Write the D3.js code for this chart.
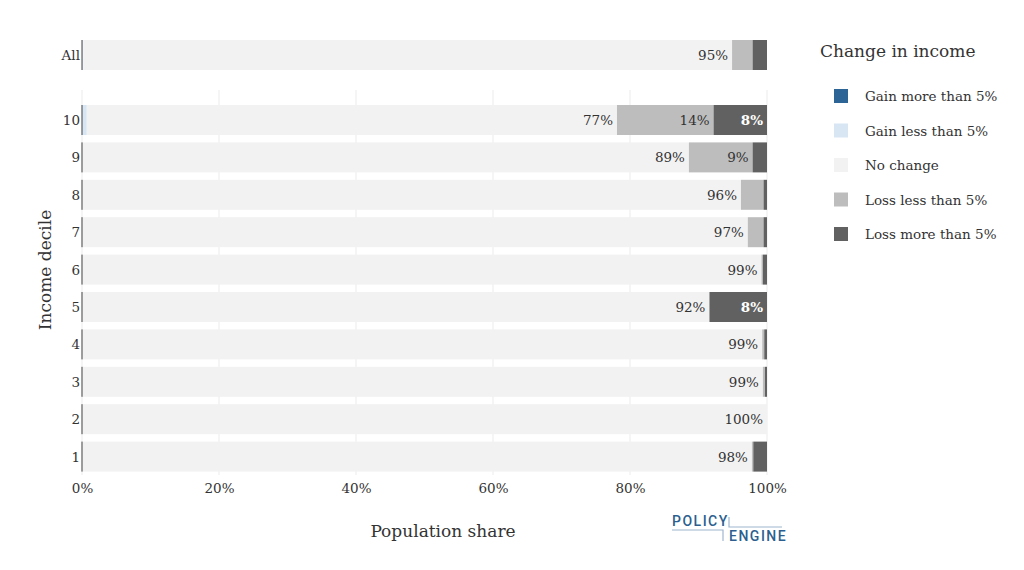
<!DOCTYPE html>
<html><head><meta charset="utf-8">
<script src="https://cdn.jsdelivr.net/npm/d3@7"></script>
<style>body{margin:0;background:#fff;font-family:"DejaVu Serif",serif;}</style>
</head><body><svg id="chart" width="1024" height="570"></svg>
<script>
var rows = ["All","10","9","8","7","6","5","4","3","2","1"];
var keys = ["Gain more than 5%","Gain less than 5%","No change","Loss less than 5%","Loss more than 5%"];
var colors = ["#2c6496","#d8e6f3","#f2f2f2","#bdbdbd","#616161"];
var gainMore = [0,0,0,0,0,0,0,0,0,0,0];
var gainLess = [0.2,0.7,0,0,0,0,0,0,0,0,0];
var noChange = [94.7,77.4,88.6,96.2,97.2,99.2,91.6,99.3,99.4,100,97.8];
var lossLess = [3.0,14.1,9.3,3.3,2.3,0.2,0,0.3,0.3,0,0.2];
var lossMore = [2.1,7.8,2.1,0.5,0.5,0.6,8.4,0.4,0.3,0,2.0];
var series = [gainMore,gainLess,noChange,lossLess,lossMore];
var labelText = [
  [null,null,"95%",null,null],[null,null,"77%","14%","8%"],[null,null,"89%","9%",null],
  [null,null,"96%",null,null],[null,null,"97%",null,null],[null,null,"99%",null,null],
  [null,null,"92%",null,"8%"],[null,null,"99%",null,null],[null,null,"99%",null,null],
  [null,null,"100%",null,null],[null,null,"98%",null,null]];
var xTicks = [0,20,40,60,80,100];

var svg = d3.select("#chart");
var x = d3.scaleLinear().domain([0,100]).range([82,767]);
var yc = function(i){ return i===0 ? 55 : 120 + (i-1)*37.4; };
var bh = 30;

// grid lines
svg.selectAll(".grid").data(xTicks).enter().append("line")
  .attr("x1",d=>x(d)).attr("x2",d=>x(d)).attr("y1",90).attr("y2",475)
  .attr("stroke","#ebebeb").attr("stroke-width",1);

rows.forEach(function(r,i){
  var acc = 0;
  var g = svg.append("g");
  series.forEach(function(s,k){
    var v = s[i];
    if (v>0) {
      g.append("rect").attr("x",x(acc)).attr("width",x(acc+v)-x(acc))
        .attr("y",yc(i)-bh/2).attr("height",bh).attr("fill",colors[k]);
      var t = labelText[i][k];
      if (t) {
        g.append("text").attr("x",x(acc+v)-4).attr("y",yc(i)+5)
          .attr("text-anchor","end").attr("font-size",13.5)
          .attr("font-weight",k===4?"bold":"normal")
          .attr("fill",k===4?"#fff":"#333").text(t);
      }
    }
    acc += v;
  });
  svg.append("text").attr("x",80).attr("y",yc(i)+5).attr("text-anchor","end")
    .attr("font-size",13.5).attr("fill","#333").text(r);
  svg.append("line").attr("x1",82).attr("x2",82).attr("y1",yc(i)-bh/2).attr("y2",yc(i)+bh/2)
    .attr("stroke","#444").attr("stroke-width",1);
});

var xAxis = d3.axisBottom(x).tickValues(xTicks).tickFormat(d=>d+"%").tickSize(0);
var ax = svg.append("g").attr("transform","translate(0,478)").call(xAxis);
ax.select(".domain").remove();
ax.selectAll("text").attr("font-size",13.5).attr("fill","#333").attr("font-family","DejaVu Serif").attr("dy","0.9em");

svg.append("text").attr("x",443).attr("y",537).attr("text-anchor","middle")
  .attr("font-size",17).attr("fill","#333").text("Population share");
svg.append("text").attr("transform","translate(51,270) rotate(-90)").attr("text-anchor","middle")
  .attr("font-size",17).attr("fill","#333").text("Income decile");

// legend
svg.append("text").attr("x",820).attr("y",57).attr("font-size",17).attr("fill","#333").text("Change in income");
keys.forEach(function(k,i){
  var yy = 96 + i*34.5;
  svg.append("rect").attr("x",834).attr("y",yy-7).attr("width",14).attr("height",14).attr("fill",colors[i]);
  svg.append("text").attr("x",865).attr("y",yy+5).attr("font-size",13.5).attr("fill","#333").text(k);
});

// logo
var lg = svg.append("g").attr("font-family","Roboto, sans-serif").attr("font-weight","500")
  .attr("fill","#2c5f8f").attr("font-size",14).attr("letter-spacing",1.5);
lg.append("text").attr("x",672).attr("y",526).text("POLICY");
lg.append("text").attr("x",729).attr("y",541).text("ENGINE");
svg.append("path").attr("d","M729,517 V527 H782 M672,530 H723 V541")
  .attr("fill","none").attr("stroke","#9fb6cf").attr("stroke-width",1.2);
</script></body></html>
